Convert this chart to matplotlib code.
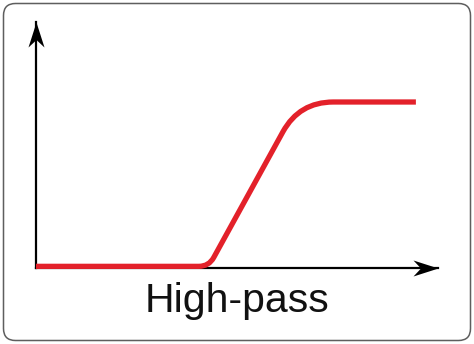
import matplotlib
matplotlib.use("Agg")
import matplotlib.pyplot as plt
from matplotlib.path import Path
from matplotlib.patches import PathPatch, FancyBboxPatch
from matplotlib.markers import MarkerStyle

# corner points of the response curve (frequency, gain)
freq = [0.0, 4.3, 6.55, 9.45]
gain = [0.01, 0.01, 1.0, 1.0]
# rounding of the two inner corners, in pixels
corner_px = [10, 34]
title = "High-pass"

W, H = 474, 344
fig = plt.figure(figsize=(W / 100, H / 100), dpi=100)

# frame with rounded corners, drawn in pixel units
bg = fig.add_axes([0, 0, 1, 1])
bg.set_xlim(0, W)
bg.set_ylim(H, 0)
bg.axis("off")
bg.add_patch(FancyBboxPatch((3.5, 3.5), W - 7, H - 7,
                            boxstyle="round,pad=0,rounding_size=12",
                            fc="white", ec="#5e5e5e", lw=1.1))

# plot area: origin at the corner of the two arrows
left, bottom, aw, ah = 36, H - 268, 402, 246
ax = fig.add_axes([left / W, bottom / H, aw / W, ah / H])
ax.set_xlim(0, 10)
ax.set_ylim(0, ah / 166)
ax.axis("off")
ax.patch.set_alpha(0)

sx = aw / 10
sy = ah / (ah / 166)

# rounded polyline from the corner points
pts = [(x * sx, y * sy) for x, y in zip(freq, gain)]
verts = [pts[0]]
codes = [Path.MOVETO]
for i in range(1, len(pts) - 1):
    ax_, ay_ = pts[i - 1]
    px, py = pts[i]
    bx, by = pts[i + 1]
    r = corner_px[i - 1]
    d1 = ((px - ax_) ** 2 + (py - ay_) ** 2) ** 0.5
    d2 = ((bx - px) ** 2 + (by - py) ** 2) ** 0.5
    s = (px - (px - ax_) / d1 * r, py - (py - ay_) / d1 * r)
    e = (px + (bx - px) / d2 * r, py + (by - py) / d2 * r)
    verts += [s, (px, py), e]
    codes += [Path.LINETO, Path.CURVE3, Path.CURVE3]
verts.append(pts[-1])
codes.append(Path.LINETO)
verts = [(x / sx, y / sy) for x, y in verts]
ax.add_patch(PathPatch(Path(verts, codes), fill=False, ec="#e3212a",
                       lw=3.8, capstyle="butt", joinstyle="round", zorder=3,
                       clip_on=False))

# axes with stealth arrowheads
ymax = ax.get_ylim()[1]
ax.plot([0, 10], [0, 0], color="black", lw=1.6, zorder=2, clip_on=False)
ax.plot([0, 0], [0, ymax], color="black", lw=1.6, zorder=2, clip_on=False)
head_r = Path([(0, 0), (-1, 0.32), (-0.7, 0), (-1, -0.32), (0, 0)],
              [Path.MOVETO, Path.LINETO, Path.LINETO, Path.LINETO, Path.CLOSEPOLY])
head_u = Path([(0, 0), (0.32, -1), (0, -0.7), (-0.32, -1), (0, 0)],
              [Path.MOVETO, Path.LINETO, Path.LINETO, Path.LINETO, Path.CLOSEPOLY])
ax.plot([10], [0], marker=MarkerStyle(head_r), ms=36, color="black",
        mew=0, zorder=2, clip_on=False)
ax.plot([0], [ymax], marker=MarkerStyle(head_u), ms=36, color="black",
        mew=0, zorder=2, clip_on=False)

fig.text(236.5 / W, 32 / H, title, ha="center", va="baseline",
         fontsize=29.5, family="Liberation Sans", color="#111111")

fig.savefig("out.png", dpi=100)
